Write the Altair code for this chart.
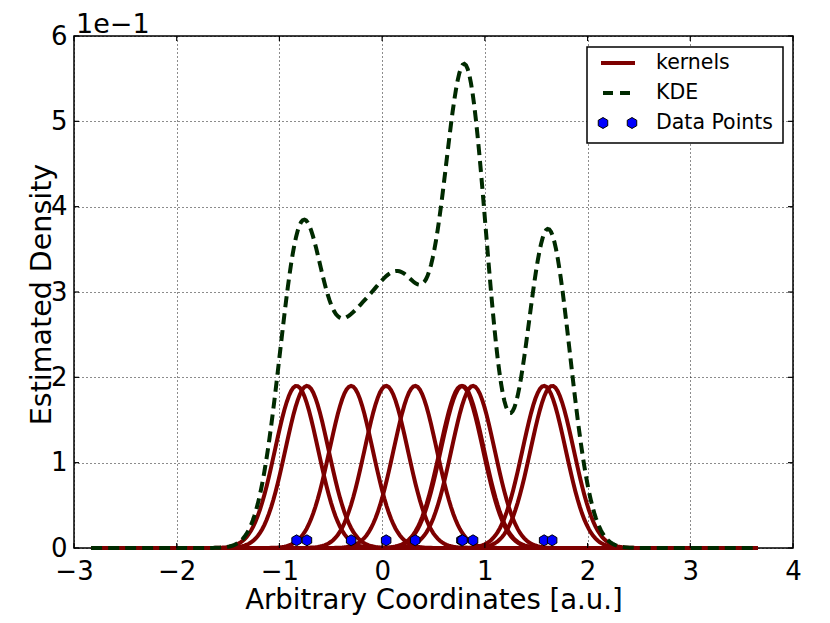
import altair as alt
import pandas as pd

# ---- data ----
data_points = [-0.833, -0.732, -0.302, 0.039, 0.322, 0.772, 0.782, 0.885, 1.577, 1.655]
bandwidth = 0.21
point_level = 0.009          # height at which the data points are drawn
x_ticks = [-3, -2, -1, 0, 1, 2, 3, 4]
y_ticks = [0, 0.1, 0.2, 0.3, 0.4, 0.5, 0.6]
legend_labels = ["kernels", "KDE", "Data Points"]

N = len(data_points)
extent = [min(data_points) - 2, max(data_points) + 2]

df = pd.DataFrame({"id": list(range(N)), "x": data_points, "yp": [point_level] * N})
dfx = pd.DataFrame({"v": x_ticks})
dfy = pd.DataFrame({"v": y_ticks})

KERNEL_COLOR = "#7d0000"
KDE_COLOR = "#002a00"
FONT = "DejaVu Sans"
HEX = "M0,-1L0.866,-0.5L0.866,0.5L0,1L-0.866,0.5L-0.866,-0.5Z"
W, H = 719, 512

xscale = alt.Scale(domain=[-3, 4], nice=False, zero=False)
yscale = alt.Scale(domain=[0, 0.6], nice=False)

xaxis = alt.Axis(values=x_ticks, format="d", title="Arbitrary Coordinates [a.u.]",
                 titleFontSize=27.5, titleFont=FONT, titleFontWeight="normal",
                 titleX=W / 2, titleY=60, titleBaseline="alphabetic", titleAlign="center",
                 labelFontSize=26, labelFont=FONT, labelPadding=10, labelFlush=False,
                 labelOverlap=False, labelColor="black", ticks=False, tickSize=0,
                 domain=False, grid=True, gridColor="black", gridDash=[1, 3],
                 gridWidth=1, gridOpacity=0.9)
yaxis = alt.Axis(values=y_ticks, labelExpr="format(datum.value*10, 'd')",
                 title="Estimated Density", titleFontSize=28.5, titleFont=FONT,
                 titleFontWeight="normal", titleAngle=270, titleX=-24, titleY=258,
                 titleBaseline="alphabetic", titleAlign="center",
                 labelFontSize=26, labelFont=FONT, labelPadding=7, labelFlush=False,
                 labelOverlap=False, labelColor="black", ticks=False, tickSize=0,
                 domain=False, grid=True, gridColor="black", gridDash=[1, 3],
                 gridWidth=1, gridOpacity=0.9)

base = alt.Chart(df)

kernels = base.transform_density(
    "x", groupby=["id"], bandwidth=bandwidth, extent=extent, steps=300,
    as_=["xv", "density"]
).transform_calculate(
    k=f"datum.density / {N}"
).mark_line(color=KERNEL_COLOR, strokeWidth=4).encode(
    x=alt.X("xv:Q", scale=xscale, axis=xaxis),
    y=alt.Y("k:Q", scale=yscale, axis=yaxis),
    detail="id:N",
)

kde = base.transform_density(
    "x", bandwidth=bandwidth, extent=extent, steps=400, as_=["xv", "density"]
).mark_line(color=KDE_COLOR, strokeWidth=4, strokeDash=[11, 6]).encode(
    x=alt.X("xv:Q", scale=xscale),
    y=alt.Y("density:Q", scale=yscale),
)

pts = base.mark_point(shape=HEX, filled=True, fill="#0000ff", stroke="black",
                      strokeWidth=1, size=120, opacity=1).encode(
    x=alt.X("x:Q", scale=xscale),
    y=alt.Y("yp:Q", scale=yscale),
)

# ---- inward ticks on all four sides (matplotlib classic style) ----
tick_b = alt.Chart(dfx).mark_rule(color="black", strokeWidth=1.2).encode(
    x=alt.X("v:Q", scale=xscale), y=alt.value(H), y2=alt.value(H - 5))
tick_t = alt.Chart(dfx).mark_rule(color="black", strokeWidth=1.2).encode(
    x=alt.X("v:Q", scale=xscale), y=alt.value(0), y2=alt.value(5))
tick_l = alt.Chart(dfy).mark_rule(color="black", strokeWidth=1.2).encode(
    y=alt.Y("v:Q", scale=yscale), x=alt.value(0), x2=alt.value(5))
tick_r = alt.Chart(dfy).mark_rule(color="black", strokeWidth=1.2).encode(
    y=alt.Y("v:Q", scale=yscale), x=alt.value(W), x2=alt.value(W - 5))

# ---- legend box (matplotlib style) ----
one = alt.Chart(pd.DataFrame({"a": [0]}))
leg_box = one.mark_rect(fill="white", stroke="black", strokeWidth=1.5).encode(
    x=alt.value(513), x2=alt.value(709), y=alt.value(11), y2=alt.value(107))
leg_k = one.mark_rule(color=KERNEL_COLOR, strokeWidth=4).encode(
    x=alt.value(527), x2=alt.value(561), y=alt.value(27))
leg_d = one.mark_rule(color=KDE_COLOR, strokeWidth=4, strokeDash=[10, 7]).encode(
    x=alt.value(529), x2=alt.value(563), y=alt.value(57))
leg_p = alt.Chart(pd.DataFrame({"px": [529, 558]})).mark_point(
    shape=HEX, filled=True, fill="#0000ff", stroke="black", strokeWidth=1,
    size=120, opacity=1).encode(x=alt.X("px:Q", scale=None), y=alt.value(87))
leg_t = alt.Chart(pd.DataFrame({"t": legend_labels, "ty": [27, 57, 87]})).mark_text(
    align="left", baseline="middle", fontSize=20.5, font=FONT, color="black").encode(
    x=alt.value(582), y=alt.Y("ty:Q", scale=None), text="t:N")

offset = one.mark_text(align="left", baseline="alphabetic", fontSize=27, font=FONT,
                       color="black").encode(
    x=alt.value(2), y=alt.value(-3), text=alt.value("1e\u22121"))

chart = alt.layer(kernels, kde, pts, tick_b, tick_t, tick_l, tick_r,
                  leg_box, leg_k, leg_d, leg_p, leg_t, offset).properties(
    width=W, height=H,
    padding={"left": 66, "top": 28, "right": 29, "bottom": 71},
    autosize=alt.AutoSizeParams(type="none"),
    background="white",
).configure_view(stroke="black", strokeWidth=1.5)

chart.save("out.html", embed_options={"renderer": "svg", "actions": False})
